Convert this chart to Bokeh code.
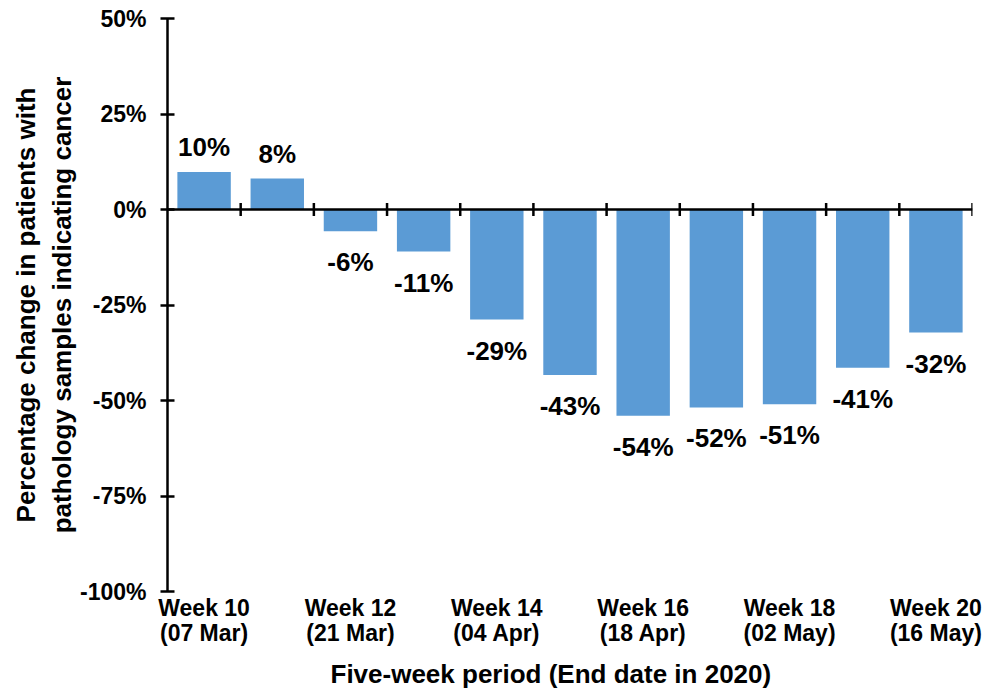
import math
from bokeh.plotting import figure
from bokeh.models import (FixedTicker, Span, Range1d, CustomJSTickFormatter, ColumnDataSource,
                          LinearAxis, Title)
from bokeh.core.properties import value
from bokeh.embed import file_html
from bokeh.resources import INLINE

weeks = ["Week 10", "Week 11", "Week 12", "Week 13", "Week 14", "Week 15",
         "Week 16", "Week 17", "Week 18", "Week 19", "Week 20"]
end_dates = ["07 Mar", "14 Mar", "21 Mar", "28 Mar", "04 Apr", "11 Apr",
             "18 Apr", "25 Apr", "02 May", "09 May", "16 May"]
change = [9.8, 8.1, -5.7, -11.0, -28.8, -43.3, -54.0, -51.8, -51.0, -41.4, -32.2]
labels = ["10%", "8%", "-6%", "-11%", "-29%", "-43%", "-54%", "-52%", "-51%", "-41%", "-32%"]
y_ticks = [-100, -75, -50, -25, 0, 25, 50]

FONT = "Liberation Sans"
n = len(weeks)
idx = list(range(n))
shown = [i for i in idx if i % 2 == 0]

p = figure(width=1000, height=696, output_backend="svg", toolbar_location=None,
           x_range=Range1d(-0.5, n - 0.5), y_range=Range1d(-100, 50),
           min_border_left=167, min_border_right=28, min_border_top=18, min_border_bottom=105)
p.outline_line_color = None
p.grid.visible = False
p.background_fill_color = "white"
p.border_fill_color = "white"

src = ColumnDataSource(dict(x=idx, top=change))
p.vbar(x="x", top="top", width=0.73, bottom=0, source=src,
       fill_color="#5B9BD5", line_color=None)

# value labels
pos_x = [i for i, v in zip(idx, change) if v >= 0]
pos_y = [v for v in change if v >= 0]
pos_t = [t for t, v in zip(labels, change) if v >= 0]
neg_x = [i for i, v in zip(idx, change) if v < 0]
neg_y = [v for v in change if v < 0]
neg_t = [t for t, v in zip(labels, change) if v < 0]
p.text(x=pos_x, y=pos_y, text=pos_t, text_align="center", text_baseline="bottom",
       y_offset=-10, text_font=value(FONT), text_font_style="bold",
       text_font_size="26px", text_color="black")
p.text(x=neg_x, y=neg_y, text=neg_t, text_align="center", text_baseline="top",
       y_offset=16, text_font=value(FONT), text_font_style="bold",
       text_font_size="26px", text_color="black")

# zero axis line with category-boundary ticks
p.add_layout(Span(location=0, dimension="width", line_color="black", line_width=2.5))
bounds = [i + 0.5 for i in idx]
p.scatter(x=bounds, y=[0] * len(bounds), marker="dash", size=13, angle=math.pi / 2,
          line_color="black", line_width=2.5)


def style_x(ax, overrides, standoff):
    ax.ticker = FixedTicker(ticks=shown)
    ax.major_label_overrides = overrides
    ax.axis_line_color = None
    ax.major_tick_line_color = None
    ax.minor_tick_line_color = None
    ax.major_tick_out = 0
    ax.major_tick_in = 0
    ax.major_label_standoff = standoff
    ax.major_label_text_font = FONT
    ax.major_label_text_font_style = "bold"
    ax.major_label_text_font_size = "23px"
    ax.major_label_text_color = "black"


style_x(p.xaxis[0], {i: weeks[i] for i in shown}, 3)
xa2 = LinearAxis()
style_x(xa2, {i: f"({end_dates[i]})" for i in shown}, -4)
p.add_layout(xa2, "below")

p.add_layout(Title(text="Five-week period (End date in 2020)", align="left", offset=163,
                   text_font=FONT, text_font_style="bold", text_font_size="26px",
                   text_color="black", standoff=16), "below")

ya = p.yaxis[0]
ya.ticker = FixedTicker(ticks=y_ticks)
ya.formatter = CustomJSTickFormatter(code="return tick + '%';")
ya.axis_line_color = "black"
ya.axis_line_width = 2.5
ya.major_tick_line_color = "black"
ya.major_tick_line_width = 2.5
ya.major_tick_in = 7
ya.major_tick_out = 7
ya.minor_tick_line_color = None
ya.major_label_standoff = 14
ya.major_label_text_font = FONT
ya.major_label_text_font_style = "bold"
ya.major_label_text_font_size = "23px"
ya.major_label_text_color = "black"
ya.axis_label = "Percentage change in patients with\npathology samples indicating cancer"
ya.axis_label_text_font = FONT
ya.axis_label_text_font_style = "bold"
ya.axis_label_text_font_size = "26px"
ya.axis_label_text_color = "black"
ya.axis_label_standoff = 0

open("out.html", "w").write(file_html(p, INLINE))
